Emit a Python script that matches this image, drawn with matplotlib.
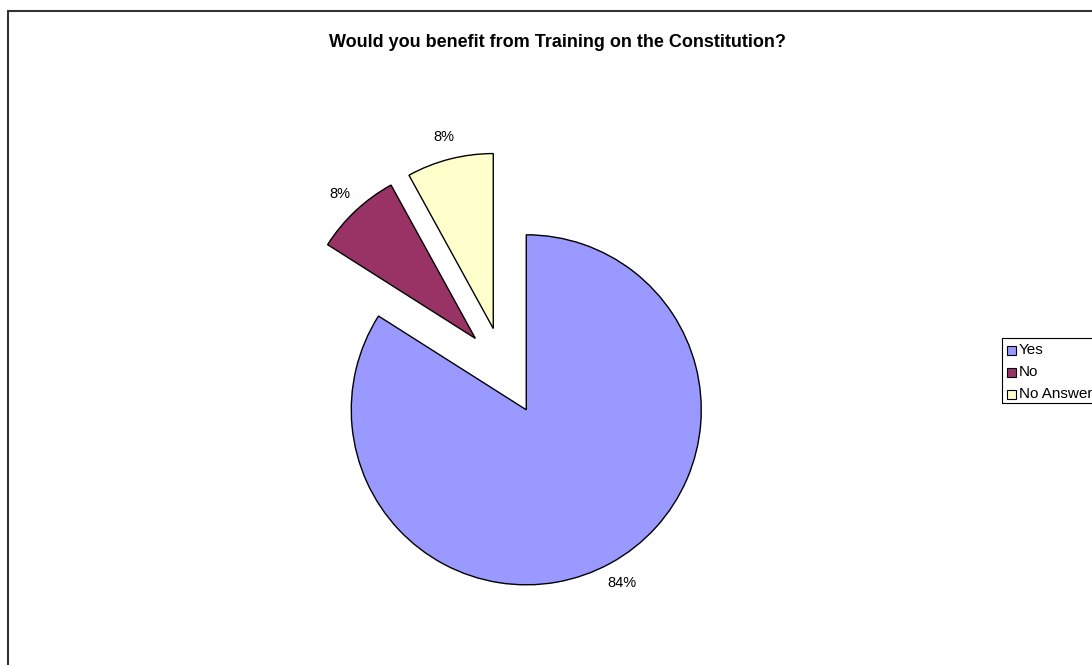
import matplotlib
matplotlib.use("Agg")
import matplotlib.pyplot as plt
from matplotlib.patches import Rectangle

categories = ["Yes", "No", "No Answer"]
values = [84, 8, 8]
colors = ["#9999FF", "#993366", "#FFFFCC"]
title = "Would you benefit from Training on the Constitution?"

W, H = 1092, 665
fig = plt.figure(figsize=(W / 100, H / 100), dpi=100)
fig.patch.set_facecolor("white")
ax = fig.add_axes([0, 0, 1, 1])

R = 175
explode = [0.27 * R, 0.235 * R, 0.235 * R]
cx, cy = 503.5, H - 368.4
wedges, texts, autotexts = ax.pie(
    values, colors=colors, explode=explode, startangle=90, counterclock=False,
    radius=R, center=(cx, cy), autopct="%.0f%%", pctdistance=1.13,
    wedgeprops=dict(edgecolor="black", linewidth=1.0),
    textprops=dict(family="Liberation Sans", fontsize=10.5, color="black"),
)
ax.set_xlim(0, W)
ax.set_ylim(0, H)
ax.set_aspect("equal", adjustable="box")
ax.axis("off")

# outer chart border (extends past right/bottom edges)
ax.add_patch(Rectangle((8, -10), W + 20, H - 11 + 10, fill=False,
                       edgecolor="#333333", linewidth=1.5, clip_on=False))

ax.text(557, H - 47, title, ha="center", va="baseline",
        family="Liberation Sans", fontsize=13, fontweight="bold")

# legend
lx = 1002
ax.add_patch(Rectangle((lx, H - 403), 120, 65, fill=False,
                       edgecolor="black", linewidth=0.8, clip_on=False))
for i, (cat, col) in enumerate(zip(categories, colors)):
    yc = H - (350 + 22 * i)
    ax.add_patch(Rectangle((lx + 5, yc - 4.5), 9, 9, facecolor=col,
                           edgecolor="black", linewidth=0.8))
    ax.text(lx + 17, yc, cat, ha="left", va="center",
            family="Liberation Sans", fontsize=11)

fig.savefig("out.png", dpi=100)
